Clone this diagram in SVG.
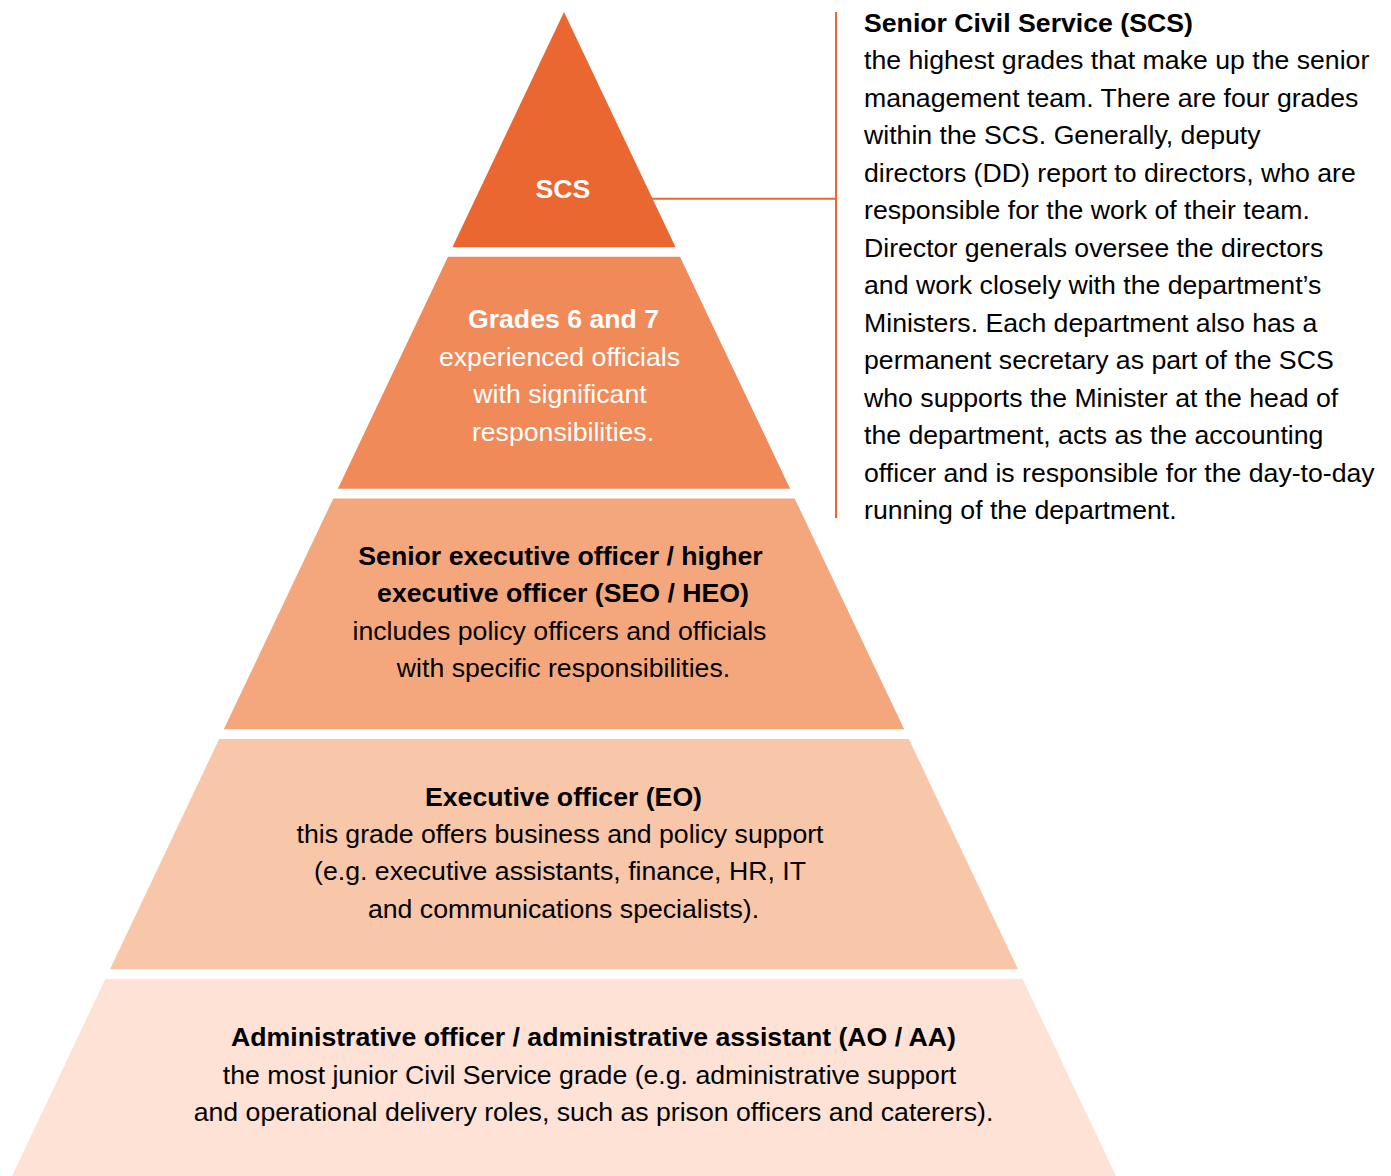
<svg xmlns="http://www.w3.org/2000/svg" width="1391" height="1176" viewBox="0 0 1391 1176">
<style>
text{font-family:"Liberation Sans",Arial,sans-serif;font-size:26.67px}
.b{font-weight:bold}
.w{fill:#fff}
.k{fill:#000}
.c{text-anchor:middle}
.ln{stroke:#eb6731;stroke-width:2;fill:none}
</style>
<rect width="1391" height="1176" fill="#fff"/>
<g id="tier-scs">
<polygon points="564,12 675.6,247.3 452.4,247.3" fill="#eb6731"/>
<text class="b w c" x="563" y="198">SCS</text>
</g>
<g id="tier-grades-6-7">
<polygon points="448,256.7 680,256.7 790.1,488.7 337.9,488.7" fill="#f08a59"/>
<text class="b w c" x="563.5" y="328">Grades 6 and 7</text>
<text class="w c" x="559.5" y="365.5">experienced officials</text>
<text class="w c" x="560" y="403">with significant</text>
<text class="w c" x="563" y="440.5">responsibilities.</text>
</g>
<g id="tier-seo-heo">
<polygon points="333.3,498.5 794.7,498.5 904.2,729.3 223.8,729.3" fill="#f4a77d"/>
<text class="b k c" x="560.5" y="565">Senior executive officer / higher</text>
<text class="b k c" x="563" y="602">executive officer (SEO / HEO)</text>
<text class="k c" x="559.5" y="639.5">includes policy officers and officials</text>
<text class="k c" x="563.5" y="677">with specific responsibilities.</text>
</g>
<g id="tier-eo">
<polygon points="219.2,739 908.8,739 1018,969.3 110,969.3" fill="#f8c6a9"/>
<text class="b k c" x="563.5" y="805.5">Executive officer (EO)</text>
<text class="k c" x="560" y="842.5">this grade offers business and policy support</text>
<text class="k c" x="560" y="880">(e.g. executive assistants, finance, HR, IT</text>
<text class="k c" x="563.5" y="917.5">and communications specialists).</text>
</g>
<g id="tier-ao-aa">
<polygon points="105.4,979 1022.6,979 1116,1176 12,1176" fill="#fde2d5"/>
<text class="b k c" x="593.5" y="1046">Administrative officer / administrative assistant (AO / AA)</text>
<text class="k c" x="589.5" y="1084">the most junior Civil Service grade (e.g. administrative support</text>
<text class="k c" x="593.5" y="1121">and operational delivery roles, such as prison officers and caterers).</text>
</g>
<g id="connectors">
<path class="ln" d="M652,198.7 H836"/>
<path class="ln" d="M836,12 V518"/>
</g>
<g id="scs-description">
<text class="b k" x="864" y="31.5">Senior Civil Service (SCS)</text>
<text class="k" x="864" y="69">the highest grades that make up the senior</text>
<text class="k" x="864" y="106.5">management team. There are four grades</text>
<text class="k" x="864" y="144">within the SCS. Generally, deputy</text>
<text class="k" x="864" y="181.5">directors (DD) report to directors, who are</text>
<text class="k" x="864" y="219">responsible for the work of their team.</text>
<text class="k" x="864" y="256.5">Director generals oversee the directors</text>
<text class="k" x="864" y="294">and work closely with the department’s</text>
<text class="k" x="864" y="331.5">Ministers. Each department also has a</text>
<text class="k" x="864" y="369">permanent secretary as part of the SCS</text>
<text class="k" x="864" y="406.5">who supports the Minister at the head of</text>
<text class="k" x="864" y="444">the department, acts as the accounting</text>
<text class="k" x="864" y="481.5">officer and is responsible for the day-to-day</text>
<text class="k" x="864" y="519">running of the department.</text>
</g>
</svg>
